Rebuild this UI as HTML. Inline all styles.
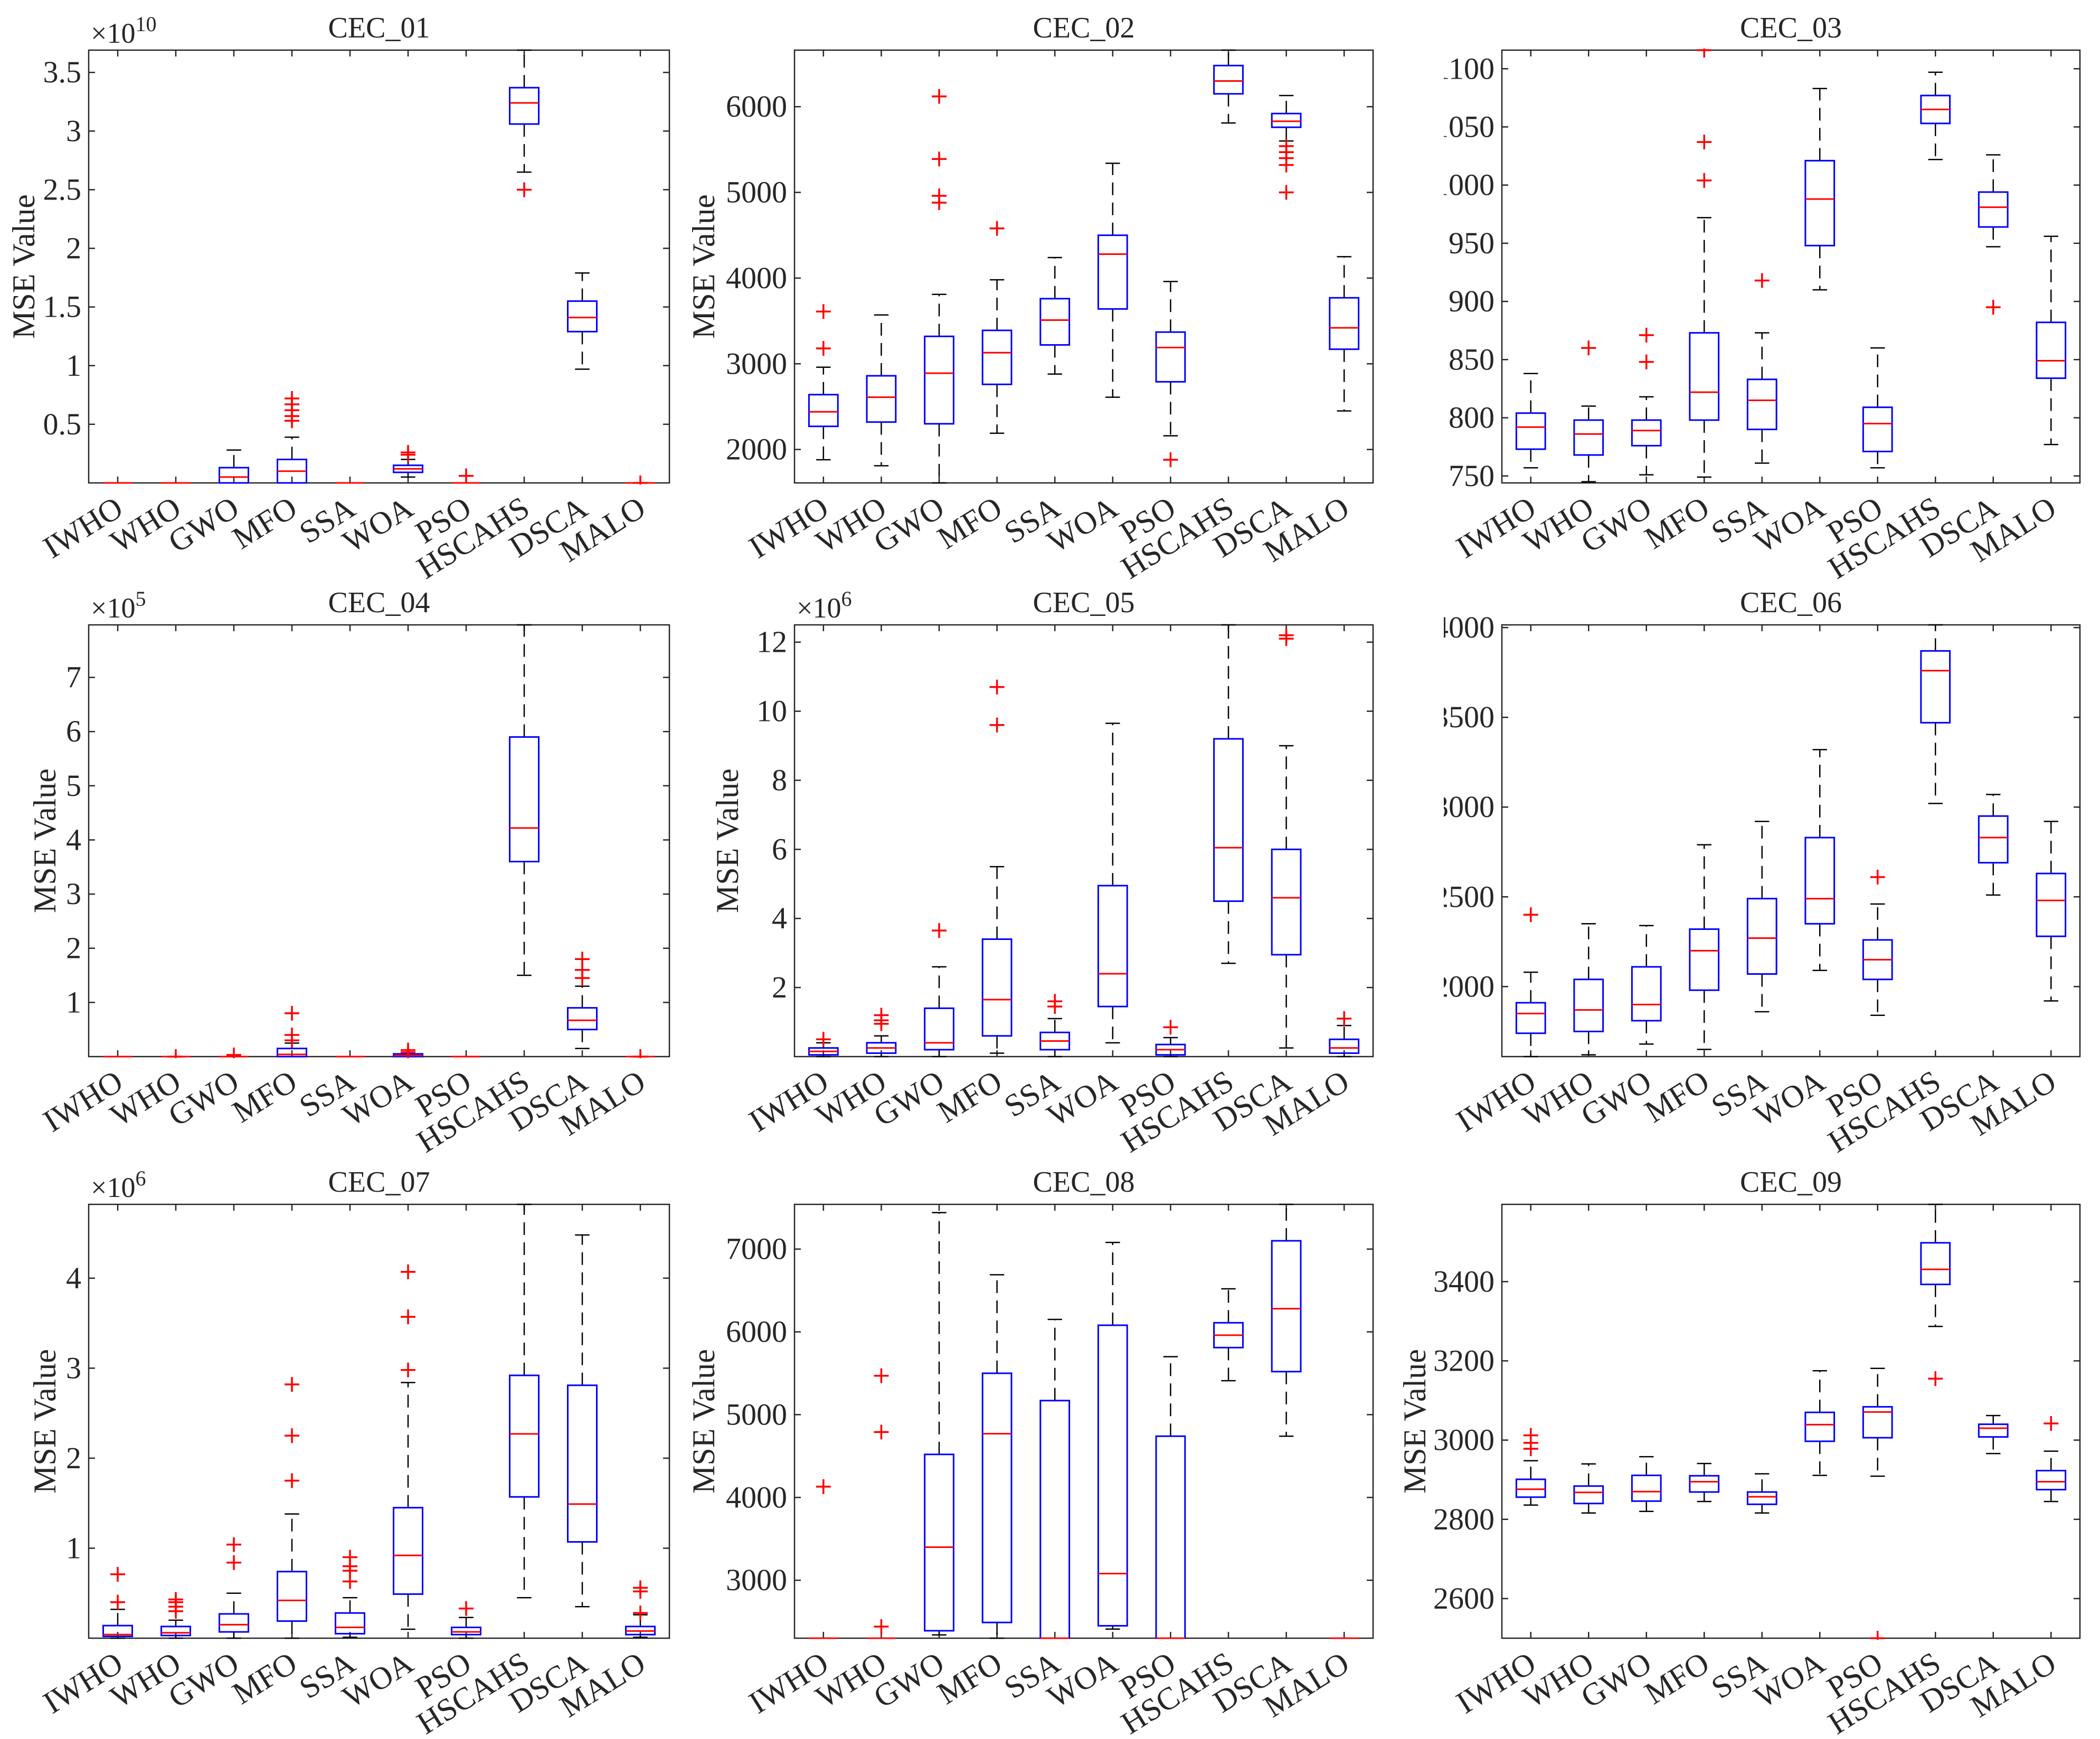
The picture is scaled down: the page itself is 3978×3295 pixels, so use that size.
<!DOCTYPE html>
<html><head><meta charset="utf-8">
<style>
html,body{margin:0;padding:0;background:#fff;}
svg{display:block;}
text{font-family:"Liberation Serif",serif;fill:#262626;}
</style></head>
<body>
<svg id="fig" width="3978" height="3295" viewBox="0 0 3978 3295" xmlns="http://www.w3.org/2000/svg">
<rect width="3978" height="3295" fill="#fff"/>
</svg>
<script>
const categories = ["IWHO","WHO","GWO","MFO","SSA","WOA","PSO","HSCAHS","DSCA","MALO"];
const titles = ["CEC_01","CEC_02","CEC_03","CEC_04","CEC_05","CEC_06","CEC_07","CEC_08","CEC_09"];
const q1 = [
 [0,0,0,0,0,0.09,0,3.06,1.29,0],
 [2270,2320,2300,2760,3220,3640,2790,6150,5760,3170],
 [773,768,776,798,790,948,771,1053,964,834],
 [0,0,0,0,0,0,0,3.6,0.5,0],
 [0.05,0.1,0.2,0.6,0.2,1.45,0.05,4.5,2.95,0.1],
 [1740,1750,1810,1980,2070,2350,2040,3470,2690,2280],
 [0.02,0.03,0.07,0.19,0.05,0.49,0.04,1.57,1.07,0.04],
 [2300,2300,2390,2490,2300,2450,2300,5810,5520,2300],
 [2856,2840,2846,2869,2838,2997,3006,3393,3008,2875]
];
const med = [
 [0,0,0.05,0.1,0,0.12,0,3.24,1.41,0],
 [2440,2610,2890,3130,3510,4280,3190,6300,5830,3420],
 [792,786,789,822,815,988,795,1065,981,849],
 [0,0,0,0.04,0,0.02,0,4.22,0.67,0],
 [0.15,0.25,0.4,1.65,0.45,2.4,0.2,6.05,4.6,0.25],
 [1850,1870,1900,2200,2270,2490,2150,3760,2830,2480],
 [0.04,0.06,0.15,0.42,0.12,0.92,0.07,2.27,1.49,0.08],
 [2300,2300,3400,4770,2300,3080,2300,5960,6280,2300],
 [2876,2868,2870,2895,2857,3039,3071,3431,3030,2895]
];
const q3 = [
 [0,0,0.13,0.2,0,0.15,0,3.37,1.55,0],
 [2640,2860,3320,3390,3760,4500,3370,6480,5920,3770],
 [804,798,798,873,833,1021,809,1077,994,882],
 [0,0,0,0.15,0,0.05,0,5.9,0.9,0],
 [0.25,0.4,1.4,3.4,0.7,4.95,0.35,9.2,6.0,0.5],
 [1910,2040,2110,2320,2490,2830,2260,3870,2950,2630],
 [0.14,0.13,0.27,0.74,0.28,1.45,0.12,2.92,2.81,0.13],
 [2300,2300,4520,5500,5170,6080,4740,6110,7100,2300],
 [2901,2884,2911,2910,2869,3070,3084,3498,3040,2923]
];
const whiskLo = [
 [0,0,0,0,0,0.05,0,2.65,0.97,0],
 [1880,1810,1610,2190,2880,2610,2160,5810,5600,2450],
 [757,745,751,749,761,910,757,1022,947,777],
 [0,0,0,0,0,0,0,1.5,0.15,0],
 [0,0,0,0.1,0,0.4,0,2.7,0.25,0],
 [1610,1620,1680,1650,1860,2090,1840,3020,2510,1920],
 [0,0,0,0,0.01,0.1,0,0.45,0.35,0.01],
 [2300,2300,2340,2300,2300,2410,2300,5410,4740,2300],
 [2836,2816,2820,2845,2816,2911,2909,3287,2966,2845]
];
const whiskHi = [
 [0,0,0.28,0.39,0,0.2,0,3.69,1.79,0],
 [2960,3570,3810,3980,4240,5340,3960,6660,6130,4250],
 [838,810,818,972,873,1083,860,1097,1026,956],
 [0,0,0,0.25,0,0.05,0,7.97,1.3,0],
 [0.4,0.6,2.6,5.5,1.1,9.65,0.55,12.5,9.0,0.9],
 [2080,2350,2340,2790,2920,3320,2460,4015,3070,2920],
 [0.32,0.2,0.5,1.38,0.45,2.84,0.23,4.82,4.48,0.26],
 [2300,2300,7440,6690,6150,7080,5700,6520,7540,2300],
 [2948,2940,2958,2941,2915,3175,3181,3595,3062,2972]
];
const outliers = [
 [[],[],[],[0.53,0.57,0.62,0.67,0.72],[],[0.24,0.26],[0.06],[2.5],[],[0]],
 [[3180,3610],[],[4880,4960,5390,6120],[4580],[],[],[1880],[],[5000,5320,5400,5470,5540],[]],
 [[],[860],[848,871],[1004,1037,1116],[918],[],[],[],[895],[]],
 [[],[0],[0.03],[0.3,0.4,0.8],[],[0.08,0.12],[],[],[1.45,1.6,1.8],[0]],
 [[0.5],[0.95,1.05,1.2],[3.65],[9.6,10.7],[1.45,1.6],[],[0.85],[],[12.1,12.2],[1.1]],
 [[2400],[],[],[],[],[],[2610],[],[],[]],
 [[0.4,0.71],[0.3,0.35,0.4,0.43],[0.84,1.04],[1.75,2.25,2.82],[0.63,0.75,0.8,0.9],[2.98,3.57,4.07],[0.33],[],[],[0.28,0.52,0.56]],
 [[4130],[2440,4790,5470],[],[],[],[],[],[],[],[]],
 [[2978,2993,3012],[],[],[],[],[],[2500],[3155],[],[3042]]
];
const yTicks = [
 [0.5,1,1.5,2,2.5,3,3.5],
 [2000,3000,4000,5000,6000],
 [750,800,850,900,950,1000,1050,1100],
 [1,2,3,4,5,6,7],
 [2,4,6,8,10,12],
 [2000,2500,3000,3500,4000],
 [1,2,3,4],
 [3000,4000,5000,6000,7000],
 [2600,2800,3000,3200,3400]
];
const yLims = [[0,3.69],[1610,6660],[744,1116],[0,7.97],[0,12.5],[1610,4015],[0,4.82],[2300,7540],[2500,3595]];
const exponents = ["10","","","5","6","","6","",""];
const hasYLabel = [true,true,false,true,true,false,true,true,true];

const colX = [[168,1268],[1505,2601],[2845,3940]];
const rowY = [[95,915],[1184,2002],[2282,3104]];
const ylabX = [45,1333,0,85,1378,0,85,1333,2680];

const NS = "http://www.w3.org/2000/svg";
const svg = document.getElementById("fig");
function mk(tag, attrs, parent){
  const e = document.createElementNS(NS, tag);
  for (const k in attrs) e.setAttribute(k, attrs[k]);
  (parent||svg).appendChild(e);
  return e;
}

for (let p = 0; p < 9; p++) {
  const [L, R] = colX[p % 3];
  const [T, B] = rowY[Math.floor(p / 3)];
  const [y0, y1] = yLims[p];
  const sx = i => L + (i + 0.5) * (R - L) / 10;
  const sy = v => B - (v - y0) / (y1 - y0) * (B - T);
  const g = mk("g", {});
  
  

  const cp = mk("clipPath", {id: "clip" + p}, g);
  mk("rect", {x: L, y: T - 3, width: R - L, height: B - T + 6}, cp);

  const tt = mk("text", {x: (L + R) / 2, y: T - 24, "text-anchor": "middle", "font-size": 56}, g);
  tt.textContent = titles[p];
  
  

  const fr = mk("rect", {x: L, y: T, width: R - L, height: B - T, fill: "none", stroke: "#262626", "stroke-width": 2.5}, g);
  
  

  for (let i = 0; i < 10; i++) {
    const x = sx(i);
    mk("line", {x1: x, x2: x, y1: B, y2: B - 12, stroke: "#262626", "stroke-width": 2.5}, g);
    mk("line", {x1: x, x2: x, y1: T, y2: T + 12, stroke: "#262626", "stroke-width": 2.5}, g);
    const lx = x + 14, ly = B + 58;
    const xt = mk("text", {x: lx, y: ly, "text-anchor": "end", "font-size": 60, transform: `rotate(-32 ${lx} ${ly})`}, g);
    xt.textContent = categories[i];
    
    
  }
  yTicks[p].forEach(v => {
    const y = sy(v);
    mk("line", {x1: L, x2: L + 12, y1: y, y2: y, stroke: "#262626", "stroke-width": 2.5}, g);
    mk("line", {x1: R, x2: R - 12, y1: y, y2: y, stroke: "#262626", "stroke-width": 2.5}, g);
    const yt = mk("text", {x: L - 14, y: y + 19, "text-anchor": "end", "font-size": 58}, g);
    yt.textContent = String(v);
    
    
  });
  if (exponents[p]) {
    const et = mk("text", {x: L + 4, y: T - 14, "font-size": 54}, g);
    et.textContent = "×10";
    const ts = mk("tspan", {dy: -22, "font-size": 40}, et);
    ts.textContent = exponents[p];
    
    
  }
  if (hasYLabel[p]) {
    const cx = ylabX[p], cyy = (T + B) / 2;
    const yl = mk("text", {x: cx, y: cyy, "text-anchor": "middle", "font-size": 60, transform: `rotate(-90 ${cx} ${cyy})`, dy: 20}, g);
    yl.textContent = "MSE Value";
    
    
  }

  const bw = (R - L) / 10 * 0.5;
  const cw = bw / 2;
  const bg = mk("g", {"clip-path": `url(#clip${p})`}, g);
  for (let i = 0; i < 10; i++) {
    const x = sx(i);
    const box = mk("g", {}, bg);
    
    
    mk("line", {x1: x, x2: x, y1: sy(q3[p][i]), y2: sy(whiskHi[p][i]), stroke: "#000", "stroke-width": 2.5, "stroke-dasharray": "24 14"}, box);
    mk("line", {x1: x, x2: x, y1: sy(q1[p][i]), y2: sy(whiskLo[p][i]), stroke: "#000", "stroke-width": 2.5, "stroke-dasharray": "24 14"}, box);
    mk("line", {x1: x - cw/2, x2: x + cw/2, y1: sy(whiskHi[p][i]), y2: sy(whiskHi[p][i]), stroke: "#000", "stroke-width": 2.5}, box);
    mk("line", {x1: x - cw/2, x2: x + cw/2, y1: sy(whiskLo[p][i]), y2: sy(whiskLo[p][i]), stroke: "#000", "stroke-width": 2.5}, box);
    const yt = sy(q3[p][i]), yb = sy(q1[p][i]);
    mk("rect", {x: x - bw/2, y: yt, width: bw, height: Math.max(0, yb - yt), fill: "none", stroke: "#0000ff", "stroke-width": 3}, box);
    mk("line", {x1: x - bw/2, x2: x + bw/2, y1: sy(med[p][i]), y2: sy(med[p][i]), stroke: "#ff0000", "stroke-width": 3}, box);
    outliers[p][i].forEach(v => {
      const y = sy(v);
      const o = mk("path", {d: `M${x-14},${y}H${x+14}M${x},${y-14}V${y+14}`, stroke: "#ff0000", "stroke-width": 3.5, fill: "none"}, bg);
      
      
    });
  }
}
const cover = mk("rect", {x: 2640, y: 0, width: 95, height: 2100, fill: "#fff"});


</script>
</body></html>
